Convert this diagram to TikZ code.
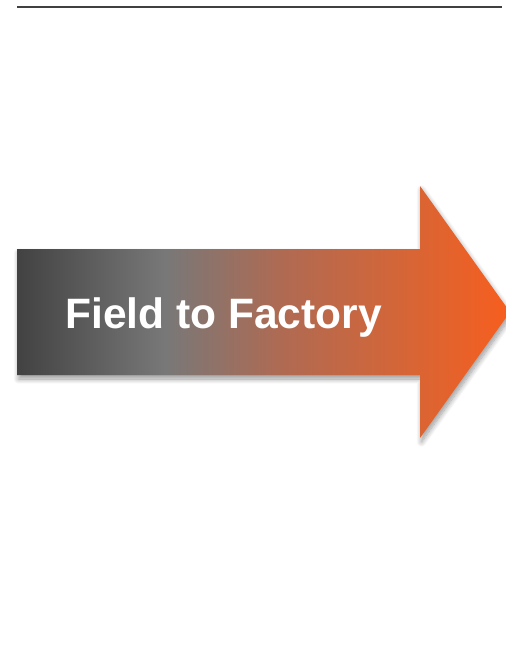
\documentclass[tikz,border=0pt]{standalone}
\usepackage{fontspec}
\setmainfont{Liberation Sans}
\usetikzlibrary{shadows.blur}
\definecolor{FtFGray0}{RGB}{66,66,66}
\definecolor{FtFGray1}{RGB}{120,120,120}
\definecolor{FtFOrange0}{RGB}{176,106,82}
\definecolor{FtFOrange1}{RGB}{216,101,53}
\definecolor{FtFOrange2}{RGB}{247,94,30}
\pgfdeclarehorizontalshading{fieldtofactory}{100bp}{color(0bp)=(FtFGray0); color(25bp)=(FtFGray0); color(40bp)=(FtFGray1); color(52bp)=(FtFOrange0); color(65bp)=(FtFOrange1); color(75bp)=(FtFOrange2); color(100bp)=(FtFOrange2)}

\begin{document}
\begin{tikzpicture}[x=1pt,y=-1pt,rule/.style={draw=black!75,line width=2pt},arrowbody/.style={shading=fieldtofactory,blur shadow={shadow xshift=1.5pt,shadow yshift=-4pt,shadow opacity=40,shadow blur radius=5pt,shadow blur steps=10}},lbl/.style={text=white,font=\bfseries\fontsize{42.5}{50}\selectfont,inner sep=0pt}]
\clip (0,0) rectangle (506,646);
\draw[rule] (17,6.5) -- (502,6.5);
\shade[arrowbody] (17,249) -- (420,249) -- (420,186) -- (510,312)
   -- (420,438) -- (420,375) -- (17,375) -- cycle;
\node[lbl,anchor=base](title) at (223.5,328) {Field to Factory};
\end{tikzpicture}
\end{document}
